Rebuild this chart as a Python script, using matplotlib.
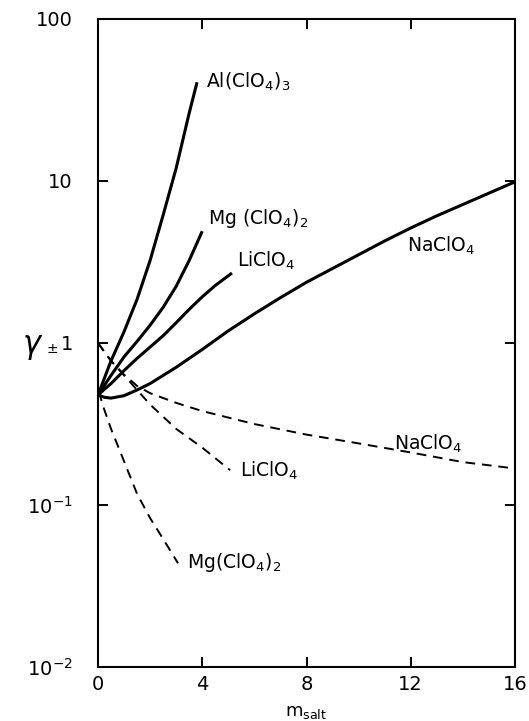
#!/usr/bin/env python3

import matplotlib
matplotlib.use('Agg')
import matplotlib.pyplot as plt

# molality of salt
al_m = [0, 0.5, 1.0, 1.5, 2.0, 2.5, 3.0, 3.5, 3.8]
al_gamma = [0.478, 0.776, 1.175, 1.862, 3.236, 6.166, 12.02, 26.3, 40.7]

mg_m = [0, 0.5, 1.0, 1.5, 2.0, 2.5, 3.0, 3.5, 4.0]
mg_gamma = [0.478, 0.631, 0.822, 1.023, 1.288, 1.660, 2.239, 3.236, 4.898]

li_m = [0, 0.5, 1.0, 1.5, 2.0, 2.5, 3.0, 3.5, 4.0, 4.5, 5.14]
li_gamma = [0.478, 0.562, 0.676, 0.804, 0.944, 1.109, 1.334, 1.614, 1.928, 2.265, 2.704]

na_m = [0, 0.25, 0.5, 1, 1.5, 2, 3, 4, 5, 6, 7, 8, 9, 10, 11, 12, 13, 14, 15, 16]
na_gamma = [0.478, 0.462, 0.457, 0.473, 0.513, 0.562, 0.708, 0.912, 1.189, 1.514,
            1.905, 2.371, 2.884, 3.508, 4.266, 5.129, 6.095, 7.161, 8.414, 9.886]

# dashed curves
na_d_m = [0, 0.5, 1, 1.5, 2, 3, 4, 6, 8, 10, 12, 14, 16]
na_d_gamma = [1.0, 0.776, 0.638, 0.543, 0.490, 0.427, 0.380, 0.316, 0.272, 0.240, 0.211, 0.184, 0.168]

li_d_m = [0, 0.5, 1, 1.5, 2, 3, 4, 5.07]
li_d_gamma = [1.0, 0.776, 0.631, 0.513, 0.417, 0.295, 0.226, 0.164]

mg_d_m = [0.05, 0.15, 0.5, 1.0, 1.5, 2.0, 2.5, 3.07]
mg_d_gamma = [0.501, 0.427, 0.295, 0.186, 0.117, 0.083, 0.0617, 0.0437]

x_ticks = [0, 4, 8, 12, 16]
y_ticks = [1e-2, 1e-1, 1, 10, 100]
y_tick_labels = ['$10^{-2}$', '$10^{-1}$', '1', '10', '100']

plt.rcParams['font.family'] = ['DejaVu Sans']
plt.rcParams['mathtext.fontset'] = 'dejavusans'

fig = plt.figure(figsize=(5.29, 7.21), dpi=100)
ax = fig.add_axes([98 / 529, 1 - 667 / 721, 417 / 529, 648 / 721])

solid = dict(color='black', lw=2.2, solid_capstyle='butt', solid_joinstyle='round')
dashed = dict(color='black', lw=1.4, dashes=(5, 3.5))

ax.plot(al_m, al_gamma, **solid)
ax.plot(mg_m, mg_gamma, **solid)
ax.plot(li_m, li_gamma, **solid)
ax.plot(na_m, na_gamma, **solid)
ax.plot(na_d_m, na_d_gamma, **dashed)
ax.plot(li_d_m, li_d_gamma, **dashed)
ax.plot(mg_d_m, mg_d_gamma, **dashed)

ax.set_yscale('log')
ax.set_xlim(0, 16)
ax.set_ylim(1e-2, 100)
ax.set_xticks(x_ticks)
ax.set_yticks(y_ticks)
ax.set_yticklabels(y_tick_labels)
ax.minorticks_off()
ax.tick_params(direction='in', length=7, width=1.4, labelsize=14,
               top=True, right=True)
ax.tick_params(axis='y', pad=18)
ax.tick_params(axis='x', pad=6)
for s in ax.spines.values():
    s.set_linewidth(1.5)

lab = dict(fontsize=13.5, va='center', ha='left')
ax.text(4.15, 41, 'Al(ClO$_4$)$_3$', **lab)
ax.text(4.22, 5.9, 'Mg (ClO$_4$)$_2$', **lab)
ax.text(5.35, 3.2, 'LiClO$_4$', **lab)
ax.text(11.85, 4.0, 'NaClO$_4$', **lab)
ax.text(11.35, 0.238, 'NaClO$_4$', **lab)
ax.text(5.45, 0.162, 'LiClO$_4$', **lab)
ax.text(3.4, 0.044, 'Mg(ClO$_4$)$_2$', **lab)

fig.text(22 / 529, 1 - 347 / 721, r'$\gamma$', fontsize=22, va='center', ha='left')
fig.text(46 / 529, 1 - 349 / 721, r'$\pm$', fontsize=10, va='center', ha='left')
fig.text(306 / 529, 1 - 712 / 721, r'm$_{\mathrm{salt}}$', fontsize=13,
         va='center', ha='center')

fig.savefig('out.png', dpi=100)
